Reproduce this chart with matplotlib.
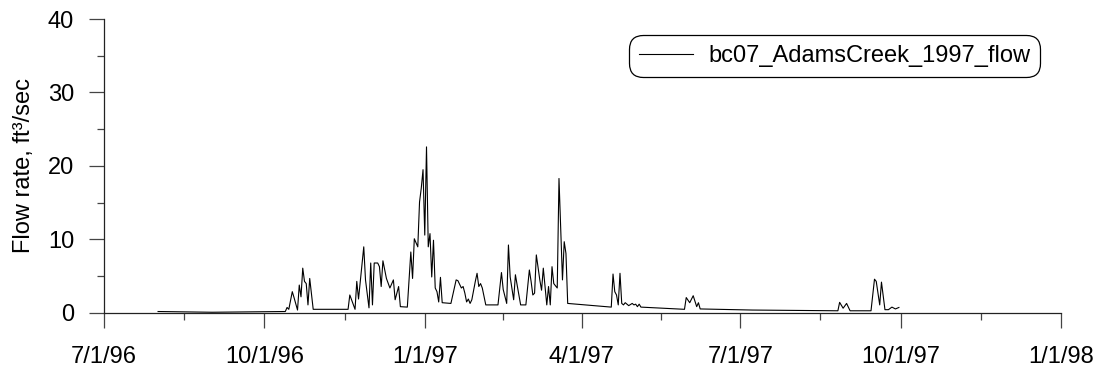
import datetime as dt

import matplotlib

matplotlib.use("Agg")
import matplotlib.dates as mdates
import matplotlib.pyplot as plt
from matplotlib.ticker import FixedLocator, FuncFormatter, MultipleLocator

plt.rcParams["font.family"] = ["Liberation Sans", "DejaVu Sans"]
plt.rcParams["font.size"] = 17

# daily flow record, gaps are joined by straight lines
dates = [
    "1996-08-01", "1996-09-01", "1996-10-13", "1996-10-14", "1996-10-15",
    "1996-10-17", "1996-10-18", "1996-10-20", "1996-10-21", "1996-10-22",
    "1996-10-23", "1996-10-24", "1996-10-25", "1996-10-26", "1996-10-27",
    "1996-10-29", "1996-11-18", "1996-11-19", "1996-11-20", "1996-11-22",
    "1996-11-23", "1996-11-24", "1996-11-27", "1996-11-28", "1996-11-30",
    "1996-12-01", "1996-12-02", "1996-12-03", "1996-12-05", "1996-12-06",
    "1996-12-07", "1996-12-08", "1996-12-10", "1996-12-12", "1996-12-14",
    "1996-12-15", "1996-12-17", "1996-12-18", "1996-12-22", "1996-12-24",
    "1996-12-25", "1996-12-26", "1996-12-28", "1996-12-29", "1996-12-30",
    "1996-12-31", "1997-01-01", "1997-01-02", "1997-01-03", "1997-01-04",
    "1997-01-05", "1997-01-06", "1997-01-07", "1997-01-08", "1997-01-09",
    "1997-01-10", "1997-01-11", "1997-01-16", "1997-01-19", "1997-01-20",
    "1997-01-22", "1997-01-23", "1997-01-24", "1997-01-25", "1997-01-26",
    "1997-01-27", "1997-01-28", "1997-01-30", "1997-01-31", "1997-02-01",
    "1997-02-02", "1997-02-03", "1997-02-05", "1997-02-12", "1997-02-14",
    "1997-02-15", "1997-02-17", "1997-02-18", "1997-02-19", "1997-02-21",
    "1997-02-22", "1997-02-23", "1997-02-25", "1997-02-28", "1997-03-02",
    "1997-03-03", "1997-03-04", "1997-03-05", "1997-03-06", "1997-03-08",
    "1997-03-09", "1997-03-10", "1997-03-12", "1997-03-13", "1997-03-14",
    "1997-03-15", "1997-03-16", "1997-03-18", "1997-03-19", "1997-03-21",
    "1997-03-22", "1997-03-23", "1997-03-24", "1997-04-18", "1997-04-19",
    "1997-04-20", "1997-04-21", "1997-04-22", "1997-04-23", "1997-04-24",
    "1997-04-25", "1997-04-26", "1997-04-28", "1997-04-30", "1997-05-01",
    "1997-05-02", "1997-05-03", "1997-05-04", "1997-05-05", "1997-05-30",
    "1997-05-31", "1997-06-02", "1997-06-04", "1997-06-06", "1997-06-07",
    "1997-06-08", "1997-07-08", "1997-08-26", "1997-08-27", "1997-08-29",
    "1997-08-31", "1997-09-02", "1997-09-14", "1997-09-16", "1997-09-17",
    "1997-09-19", "1997-09-20", "1997-09-22", "1997-09-24", "1997-09-26",
    "1997-09-28", "1997-09-30",
]
flow = [
    0.2, 0.1, 0.2, 0.75, 0.5,
    2.9, 2.1, 0.4, 3.8, 2.2,
    6.1, 4.3, 4.0, 1.1, 4.7,
    0.5, 0.5, 2.45, 1.8, 0.5,
    4.3, 1.9, 9.0, 4.5, 0.7,
    6.8, 1.1, 6.8, 6.8, 6.3,
    3.6, 7.1, 4.7, 3.4, 4.5,
    1.8, 3.6, 0.86, 0.8, 8.3,
    4.7, 10.1, 9.0, 15.1, 17.0,
    19.5, 10.6, 22.6, 9.0, 10.8,
    4.9, 9.9, 3.4, 2.9, 1.5,
    4.85, 1.4, 1.3, 4.5, 4.4,
    3.4, 3.6, 2.7, 1.5, 1.9,
    1.3, 1.8, 4.3, 5.4, 3.6,
    4.0, 3.4, 1.1, 1.1, 5.5,
    3.2, 1.3, 9.25, 4.9, 1.8,
    5.2, 3.8, 1.1, 1.1, 5.85,
    4.3, 2.45, 2.7, 7.9, 4.5,
    3.1, 6.1, 1.1, 3.6, 1.1,
    6.3, 4.0, 3.4, 18.3, 4.5,
    9.7, 8.1, 1.3, 0.8, 5.3,
    2.9, 2.45, 1.1, 5.4, 1.3,
    1.1, 1.4, 1.0, 1.3, 1.1,
    1.2, 0.86, 1.2, 0.8, 0.5,
    2.1, 1.4, 2.35, 0.86, 1.4,
    0.55, 0.4, 0.3, 1.45, 0.65,
    1.3, 0.3, 0.3, 4.6, 4.3,
    1.1, 4.2, 0.45, 0.45, 0.8,
    0.55, 0.75,
]
series_name = "bc07_AdamsCreek_1997_flow"

quarters = ["1996-07-01", "1996-10-01", "1997-01-01", "1997-04-01",
            "1997-07-01", "1997-10-01", "1998-01-01"]

x = [dt.datetime.strptime(d, "%Y-%m-%d") for d in dates]
qx = [mdates.date2num(dt.datetime.strptime(d, "%Y-%m-%d")) for d in quarters]

fig = plt.figure(figsize=(11.02, 3.77), dpi=100)
ax = fig.add_axes([0.0944, 0.1698, 0.8684, 0.7798])

ax.plot(x, flow, color="black", linewidth=0.8, label=series_name)

ax.set_xlim(qx[0], qx[-1])
ax.set_ylim(0, 40)

# quarterly labels, unlabeled ticks halfway between
ax.xaxis.set_major_locator(FixedLocator(qx))
ax.xaxis.set_minor_locator(FixedLocator([(a + b) / 2 for a, b in zip(qx[:-1], qx[1:])]))
ax.xaxis.set_major_formatter(FuncFormatter(
    lambda v, pos: "{0.month}/{0.day}/{0:%y}".format(mdates.num2date(v))))
ax.yaxis.set_major_locator(MultipleLocator(10))
ax.yaxis.set_minor_locator(MultipleLocator(5))

for side in ("top", "right"):
    ax.spines[side].set_visible(False)
for side in ("left", "bottom"):
    ax.spines[side].set_linewidth(0.9)
    ax.spines[side].set_color("#222222")

ax.tick_params(which="major", length=10.5, width=0.9, color="#444444")
ax.tick_params(which="minor", length=5, width=0.9, color="#444444")
ax.tick_params(axis="x", which="major", pad=13)
ax.tick_params(axis="y", which="major", pad=11)

ax.set_ylabel("Flow rate, ft³/sec", labelpad=9)

leg = ax.legend(loc="upper right", bbox_to_anchor=(0.978, 0.946), borderaxespad=0,
                handlelength=2.3, handletextpad=0.64, borderpad=0.42)
frame = leg.get_frame()
frame.set_boxstyle("round", pad=0, rounding_size=0.6)
frame.set_edgecolor("black")
frame.set_linewidth(0.9)
frame.set_alpha(1)

fig.savefig("out.png", dpi=100)
